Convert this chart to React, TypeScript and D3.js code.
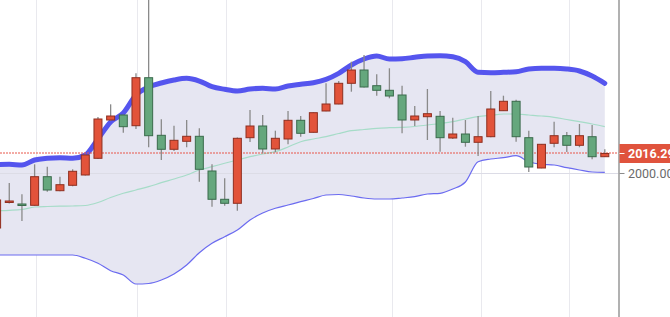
import React from "react";
import * as d3 from "d3";

// OHLC per candle (index 0..48)
const opens = [1955.6,1976.38,1975.16,1974.1,1997.39,1985.99,1990.39,1998.78,2012.38,2043.58,2047.65,2038.93,2078.03,2031.11,2019.71,2026.23,2030.3,2002.04,1978.99,1975.73,2029.16,2038.69,2019.96,2028.1,2043.33,2033.56,2050.91,2056.61,2073.47,2084.3,2071.51,2067.77,2063.94,2043.58,2046.26,2046.59,2028.91,2032.17,2025.41,2029.97,2051.15,2058.81,2029.16,2004.48,2024.6,2030.79,2022.97,2029.97,2013.68];
const highs = [1979.2,1992.26,1983.06,2007.49,2005.54,1997.39,2003.42,2015.5,2046.02,2056.36,2048.0,2081.61,2150.0,2044.15,2038.93,2043.58,2036.82,2007.49,1996.09,2029.32,2051.72,2047.65,2034.86,2050.91,2046.83,2049.8,2073.47,2075.34,2091.06,2096.52,2080.8,2085.69,2071.51,2054.98,2068.82,2050.91,2045.45,2043.58,2046.83,2067.2,2063.37,2060.11,2034.86,2024.0,2042.19,2033.8,2040.32,2039.5,2019.71];
const lows = [1953.2,1975.57,1961.31,1973.77,1985.18,1985.5,1989.57,1998.37,2011.81,2042.76,2033.23,2036.25,2021.34,2011.0,2018.33,2021.34,1993.32,1972.96,1973.77,1969.7,2025.66,2016.45,2017.27,2023.78,2029.97,2033.3,2050.7,2056.4,2066.63,2070.0,2063.37,2061.25,2032.74,2038.69,2027.29,2017.76,2028.1,2021.83,2014.25,2029.6,2050.9,2025.9,2001.22,2004.2,2021.34,2017.51,2021.34,2011.57,2013.5];
const closes = [1978.42,1977.6,1974.34,1997.39,1986.56,1990.88,2001.79,2015.07,2044.39,2046.83,2038.12,2078.03,2030.79,2019.71,2027.04,2030.3,2003.42,1978.99,1975.73,2028.67,2038.69,2019.96,2028.67,2043.33,2032.74,2049.52,2056.61,2073.47,2084.3,2070.45,2067.77,2063.12,2043.58,2046.83,2048.71,2029.16,2032.17,2025.41,2029.97,2052.54,2058.81,2029.97,2005.29,2023.78,2030.79,2022.97,2030.79,2013.68,2016.29];

// Bollinger bands
const upperBand = [2007.33,2007.49,2006.92,2011.0,2012.38,2012.87,2012.38,2015.07,2028.1,2041.95,2049.28,2063.94,2070.45,2073.71,2076.16,2077.54,2075.34,2070.7,2068.58,2067.2,2068.83,2069.4,2068.83,2071.27,2072.65,2073.96,2076.72,2081.61,2088.37,2093.26,2095.7,2093.26,2093.5,2094.64,2095.7,2095.95,2095.13,2091.06,2082.43,2082.1,2082.43,2082.92,2085.12,2085.69,2085.69,2085.12,2083.49,2079.41,2073.47];
const middleBand = [1969.7,1970.03,1970.68,1972.71,1973.12,1973.37,1973.53,1973.94,1976.38,1980.45,1983.87,1986.56,1989.25,1992.51,1995.52,1998.78,2002.85,2005.54,2008.31,2011.0,2013.68,2015.88,2017.76,2021.58,2025.9,2028.1,2029.97,2032.58,2034.86,2035.84,2036.82,2037.3,2037.63,2038.28,2039.5,2040.73,2042.19,2044.39,2046.26,2047.4,2048.46,2048.46,2047.65,2046.83,2045.77,2043.98,2042.19,2040.32,2038.12];
const lowerBand = [1933.62,1933.62,1933.62,1933.62,1933.62,1933.62,1933.62,1930.93,1926.86,1920.83,1917.33,1910.0,1910.41,1913.26,1918.14,1925.47,1935.49,1943.15,1948.52,1953.98,1962.13,1967.83,1971.66,1974.34,1977.03,1979.64,1982.49,1982.9,1981.67,1980.04,1979.23,1979.23,1980.04,1981.1,1983.3,1983.87,1987.38,1993.08,2009.61,2011.81,2012.87,2014.5,2009.61,2007.49,2006.92,2004.72,2002.85,2001.22,2000.98];

// vertical gridlines (in candle-index units) and y tick labels
const xGridIndices = [3.1, 11.1, 18.1, 31.2, 38.2, 45.2];
const yTicks = [2000];
const lastPrice = 2016.29;

const W = 670;
const H = 317;
const plotRight = 618.5;

export default function App() {
  const n = closes.length;
  const idx = d3.range(n);
  const x = d3.scaleLinear().domain([0, 48]).range([-3.4, 604.8]);
  const y = d3.scaleLinear().domain([1883.11, 2141.32]).range([H, 0]);

  const area = d3
    .area<number>()
    .x((i) => x(i))
    .y0((i) => y(lowerBand[i]))
    .y1((i) => y(upperBand[i]))
    .curve(d3.curveMonotoneX);
  const line = (arr: number[]) =>
    d3
      .line<number>()
      .x((i) => x(i))
      .y((i) => y(arr[i]))
      .curve(d3.curveMonotoneX)(idx) as string;

  const bw = 8;
  const font = "Roboto, 'Open Sans', sans-serif";
  const lastY = Math.round(y(lastPrice));

  return (
    <svg
      width={W}
      height={H}
      style={{ position: "absolute", left: 0, top: 0, background: "#fff" }}
    >
      <defs>
        <clipPath id="plot">
          <rect x={0} y={0} width={plotRight} height={H} />
        </clipPath>
      </defs>
      <g clipPath="url(#plot)">
        {xGridIndices.map((g, k) => (
          <line
            key={"gx" + k}
            x1={Math.round(x(g)) + 0.5}
            x2={Math.round(x(g)) + 0.5}
            y1={0}
            y2={H}
            stroke="#e9e9ee"
            strokeWidth={1}
          />
        ))}
        <path d={area(idx) as string} fill="#e6e6f2" />
        {yTicks.map((t) => (
          <line
            key={"gy" + t}
            x1={0}
            x2={plotRight}
            y1={Math.round(y(t)) + 0.5}
            y2={Math.round(y(t)) + 0.5}
            stroke="#dcdce6"
            strokeWidth={1}
          />
        ))}
        <path d={line(lowerBand)} fill="none" stroke="#6b6bf0" strokeWidth={1.2} />
        <path d={line(middleBand)} fill="none" stroke="#a6dcc8" strokeWidth={1.2} />
        <path
          d={line(upperBand)}
          fill="none"
          stroke="#5555ee"
          strokeWidth={5}
          strokeLinejoin="round"
          strokeLinecap="round"
        />
        <line
          x1={0}
          x2={plotRight}
          y1={lastY}
          y2={lastY}
          stroke="#e8564a"
          strokeWidth={1}
          strokeDasharray="2,1"
        />
        {idx.map((i) => {
          const up = closes[i] >= opens[i];
          const cx = x(i);
          const top = y(Math.max(opens[i], closes[i]));
          const bot = y(Math.min(opens[i], closes[i]));
          const h = Math.max(bot - top, 1.5);
          return (
            <g key={"c" + i}>
              <line
                x1={cx}
                x2={cx}
                y1={y(highs[i])}
                y2={y(lows[i])}
                stroke="#8a8a8a"
                strokeWidth={1.3}
              />
              <rect
                x={cx - bw / 2}
                y={top}
                width={bw}
                height={h}
                fill={up ? "#e2533a" : "#65a77d"}
                stroke={up ? "#8e2f20" : "#3a6b4c"}
                strokeWidth={1}
              />
            </g>
          );
        })}
      </g>
      <line x1={plotRight + 0.5} x2={plotRight + 0.5} y1={0} y2={H} stroke="#7d7d7d" strokeWidth={1.2} />
      {yTicks.map((t) => (
        <g key={"yt" + t}>
          <line x1={plotRight + 1} x2={plotRight + 6} y1={y(t)} y2={y(t)} stroke="#8a8a8a" />
          <text
            x={628}
            y={y(t)}
            dy="0.36em"
            fontFamily={font}
            fontSize={12.5}
            fill="#6b6b6b"
          >
            {t.toFixed(2)}
          </text>
        </g>
      ))}
      <rect x={plotRight + 1} y={y(lastPrice) - 9.5} width={W - plotRight} height={19} fill="#e0533d" />
      <line x1={plotRight + 1} x2={plotRight + 6} y1={y(lastPrice)} y2={y(lastPrice)} stroke="#ffffff" />
      <text
        x={628}
        y={y(lastPrice)}
        dy="0.36em"
        fontFamily={font}
        fontSize={12.5}
        fontWeight="bold"
        fill="#ffffff"
      >
        {lastPrice.toFixed(2)}
      </text>
    </svg>
  );
}
